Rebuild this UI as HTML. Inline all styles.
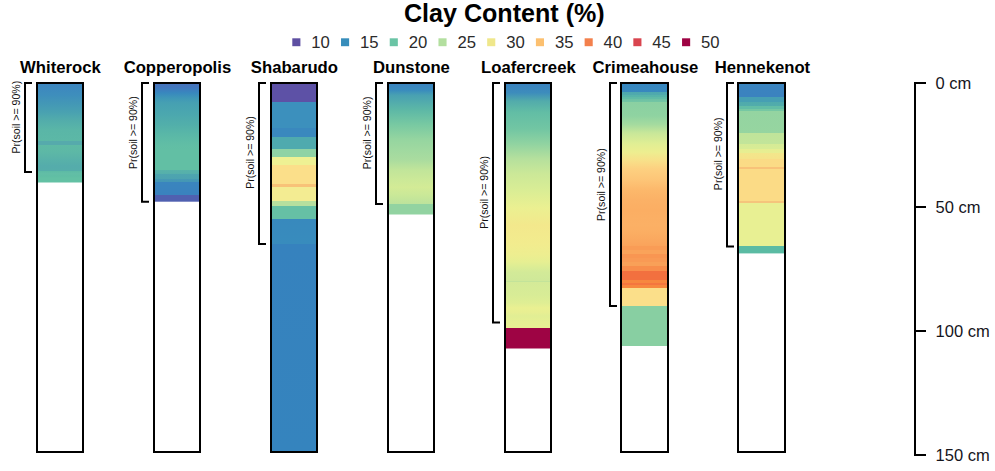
<!DOCTYPE html>
<html><head><meta charset="utf-8"><title>Clay Content (%)</title>
<style>html,body{margin:0;padding:0;background:#fff}svg{display:block}text{font-family:"Liberation Sans",Arial,sans-serif}</style>
</head><body>
<svg width="995" height="471" viewBox="0 0 995 471">
<rect width="995" height="471" fill="#fff"/>
<text x="504.3" y="21.8" font-size="25.1" font-weight="bold" text-anchor="middle" fill="#000">Clay Content (%)</text>
<rect x="292.30" y="38.3" width="8.1" height="7.9" fill="#5E4FA2"/>
<text x="311.30" y="47.6" font-size="16.7" fill="#2b2b2b">10</text>
<rect x="341.02" y="38.3" width="8.1" height="7.9" fill="#378DBB"/>
<text x="360.02" y="47.6" font-size="16.7" fill="#2b2b2b">15</text>
<rect x="389.74" y="38.3" width="8.1" height="7.9" fill="#6AC4A5"/>
<text x="408.74" y="47.6" font-size="16.7" fill="#2b2b2b">20</text>
<rect x="438.46" y="38.3" width="8.1" height="7.9" fill="#B3DF9F"/>
<text x="457.46" y="47.6" font-size="16.7" fill="#2b2b2b">25</text>
<rect x="487.18" y="38.3" width="8.1" height="7.9" fill="#EFE78B"/>
<text x="506.18" y="47.6" font-size="16.7" fill="#2b2b2b">30</text>
<rect x="535.90" y="38.3" width="8.1" height="7.9" fill="#FCC070"/>
<text x="554.90" y="47.6" font-size="16.7" fill="#2b2b2b">35</text>
<rect x="584.62" y="38.3" width="8.1" height="7.9" fill="#F3804C"/>
<text x="603.62" y="47.6" font-size="16.7" fill="#2b2b2b">40</text>
<rect x="633.34" y="38.3" width="8.1" height="7.9" fill="#D9454F"/>
<text x="652.34" y="47.6" font-size="16.7" fill="#2b2b2b">45</text>
<rect x="682.06" y="38.3" width="8.1" height="7.9" fill="#9E0343"/>
<text x="701.06" y="47.6" font-size="16.7" fill="#2b2b2b">50</text>
<defs><linearGradient id="g0" gradientUnits="userSpaceOnUse" x1="0" y1="83.0" x2="0" y2="182.5">
<stop offset="0.00000" stop-color="#3C85C0"/>
<stop offset="0.12060" stop-color="#3E8EBC"/>
<stop offset="0.22111" stop-color="#4499B5"/>
<stop offset="0.29146" stop-color="#49A1B1"/>
<stop offset="0.37186" stop-color="#52ACAB"/>
<stop offset="0.47236" stop-color="#5AB6A7"/>
<stop offset="0.58090" stop-color="#5CB8A6"/>
<stop offset="0.58291" stop-color="#56AAAC"/>
<stop offset="0.61809" stop-color="#56AAAC"/>
<stop offset="0.62312" stop-color="#5EBAA5"/>
<stop offset="0.69347" stop-color="#5DB8A6"/>
<stop offset="0.77387" stop-color="#58B1A9"/>
<stop offset="0.83417" stop-color="#55ACAB"/>
<stop offset="0.88141" stop-color="#55ADAA"/>
<stop offset="0.88442" stop-color="#5CBAA5"/>
<stop offset="0.90955" stop-color="#62BEA6"/>
<stop offset="0.93467" stop-color="#60BEA4"/>
<stop offset="0.95477" stop-color="#63C1A4"/>
<stop offset="1.00000" stop-color="#63C1A4"/>
</linearGradient></defs>
<rect x="37" y="83.0" width="46" height="99.50" fill="url(#g0)"/>
<rect x="37" y="83" width="46" height="369" fill="none" stroke="#000" stroke-width="2"/>
<text x="60.40" y="72.7" font-size="16.7" font-weight="bold" text-anchor="middle" fill="#000">Whiterock</text>
<path d="M32 83H25V171.90H32" fill="none" stroke="#000" stroke-width="2" stroke-linejoin="miter"/>
<text transform="translate(19.90,117.15) rotate(-90)" font-size="10.55" text-anchor="middle" fill="#111">Pr(soil &gt;= 90%)</text>
<defs><linearGradient id="g1" gradientUnits="userSpaceOnUse" x1="0" y1="83.0" x2="0" y2="201.7">
<stop offset="0.00000" stop-color="#4870BA"/>
<stop offset="0.04212" stop-color="#4078BD"/>
<stop offset="0.08425" stop-color="#3888BE"/>
<stop offset="0.12637" stop-color="#3F97B7"/>
<stop offset="0.16849" stop-color="#46A0B2"/>
<stop offset="0.26959" stop-color="#4CA8AE"/>
<stop offset="0.35383" stop-color="#52AFAA"/>
<stop offset="0.43808" stop-color="#5AB8A7"/>
<stop offset="0.52233" stop-color="#61BEA5"/>
<stop offset="0.56445" stop-color="#62BFA4"/>
<stop offset="0.72873" stop-color="#62BFA4"/>
<stop offset="0.72873" stop-color="#58B3A9"/>
<stop offset="0.76664" stop-color="#55AFAB"/>
<stop offset="0.76664" stop-color="#4EA5AF"/>
<stop offset="0.80876" stop-color="#4CA2B0"/>
<stop offset="0.80876" stop-color="#4699B4"/>
<stop offset="0.83235" stop-color="#4497B5"/>
<stop offset="0.83235" stop-color="#3A85BE"/>
<stop offset="0.94608" stop-color="#3A82BE"/>
<stop offset="0.94608" stop-color="#5060B0"/>
<stop offset="1.00000" stop-color="#5060B0"/>
</linearGradient></defs>
<rect x="154" y="83.0" width="46" height="118.70" fill="url(#g1)"/>
<rect x="154" y="83" width="46" height="369" fill="none" stroke="#000" stroke-width="2"/>
<text x="177.40" y="72.7" font-size="16.7" font-weight="bold" text-anchor="middle" fill="#000">Copperopolis</text>
<path d="M149 83H142V201.80H149" fill="none" stroke="#000" stroke-width="2" stroke-linejoin="miter"/>
<text transform="translate(136.90,132.65) rotate(-90)" font-size="10.55" text-anchor="middle" fill="#111">Pr(soil &gt;= 90%)</text>
<defs><linearGradient id="g2" gradientUnits="userSpaceOnUse" x1="0" y1="83.0" x2="0" y2="451.8">
<stop offset="0.00000" stop-color="#5D51A6"/>
<stop offset="0.05098" stop-color="#5D51A6"/>
<stop offset="0.05098" stop-color="#3C90BD"/>
<stop offset="0.12229" stop-color="#3C90BD"/>
<stop offset="0.12229" stop-color="#3A88BE"/>
<stop offset="0.14534" stop-color="#3A88BE"/>
<stop offset="0.14534" stop-color="#4FAAAE"/>
<stop offset="0.17896" stop-color="#4FAAAE"/>
<stop offset="0.17896" stop-color="#8FD3A5"/>
<stop offset="0.20065" stop-color="#8FD3A5"/>
<stop offset="0.20065" stop-color="#EEF193"/>
<stop offset="0.22099" stop-color="#EEF193"/>
<stop offset="0.22099" stop-color="#FBDF8A"/>
<stop offset="0.27467" stop-color="#FBDF8A"/>
<stop offset="0.27467" stop-color="#F8C278"/>
<stop offset="0.28281" stop-color="#F8C278"/>
<stop offset="0.28281" stop-color="#F3EC92"/>
<stop offset="0.31887" stop-color="#F3EC92"/>
<stop offset="0.31887" stop-color="#B6DF9E"/>
<stop offset="0.33351" stop-color="#B6DF9E"/>
<stop offset="0.33351" stop-color="#66C0A5"/>
<stop offset="0.36795" stop-color="#66C0A5"/>
<stop offset="0.36795" stop-color="#3889BD"/>
<stop offset="0.43736" stop-color="#388CBD"/>
<stop offset="0.43736" stop-color="#3682BE"/>
<stop offset="1.00000" stop-color="#3584BE"/>
</linearGradient></defs>
<rect x="271" y="83.0" width="46" height="368.80" fill="url(#g2)"/>
<rect x="271" y="83" width="46" height="369" fill="none" stroke="#000" stroke-width="2"/>
<text x="294.40" y="72.7" font-size="16.7" font-weight="bold" text-anchor="middle" fill="#000">Shabarudo</text>
<path d="M266 83H259V243.90H266" fill="none" stroke="#000" stroke-width="2" stroke-linejoin="miter"/>
<text transform="translate(253.90,152.50) rotate(-90)" font-size="10.55" text-anchor="middle" fill="#111">Pr(soil &gt;= 90%)</text>
<defs><linearGradient id="g3" gradientUnits="userSpaceOnUse" x1="0" y1="83.0" x2="0" y2="214.5">
<stop offset="0.00000" stop-color="#3A82BF"/>
<stop offset="0.05627" stop-color="#3A8CBD"/>
<stop offset="0.09125" stop-color="#48A0B2"/>
<stop offset="0.20532" stop-color="#5DB8A6"/>
<stop offset="0.31635" stop-color="#78C9A2"/>
<stop offset="0.42890" stop-color="#95D5A0"/>
<stop offset="0.50951" stop-color="#A0D9A0"/>
<stop offset="0.58555" stop-color="#AADC9F"/>
<stop offset="0.66160" stop-color="#C1E59A"/>
<stop offset="0.73764" stop-color="#CCE998"/>
<stop offset="0.79392" stop-color="#D3EB96"/>
<stop offset="0.85171" stop-color="#CAE898"/>
<stop offset="0.88973" stop-color="#C2E59A"/>
<stop offset="0.92015" stop-color="#BCE39C"/>
<stop offset="0.92091" stop-color="#92D3A1"/>
<stop offset="1.00000" stop-color="#92D3A1"/>
</linearGradient></defs>
<rect x="388" y="83.0" width="46" height="131.50" fill="url(#g3)"/>
<rect x="388" y="83" width="46" height="369" fill="none" stroke="#000" stroke-width="2"/>
<text x="411.40" y="72.7" font-size="16.7" font-weight="bold" text-anchor="middle" fill="#000">Dunstone</text>
<path d="M383 83H376V204.00H383" fill="none" stroke="#000" stroke-width="2" stroke-linejoin="miter"/>
<text transform="translate(370.90,132.90) rotate(-90)" font-size="10.55" text-anchor="middle" fill="#111">Pr(soil &gt;= 90%)</text>
<defs><linearGradient id="g4" gradientUnits="userSpaceOnUse" x1="0" y1="83.0" x2="0" y2="348.5">
<stop offset="0.00000" stop-color="#3A82BF"/>
<stop offset="0.03653" stop-color="#3D8CBC"/>
<stop offset="0.06780" stop-color="#52ABAB"/>
<stop offset="0.10923" stop-color="#62BDA5"/>
<stop offset="0.17326" stop-color="#72C6A3"/>
<stop offset="0.22863" stop-color="#90D3A1"/>
<stop offset="0.28475" stop-color="#B5E09D"/>
<stop offset="0.34049" stop-color="#CBE898"/>
<stop offset="0.40301" stop-color="#D9ED95"/>
<stop offset="0.47081" stop-color="#EBF091"/>
<stop offset="0.53484" stop-color="#F3E88C"/>
<stop offset="0.60640" stop-color="#F2EC8E"/>
<stop offset="0.64783" stop-color="#EDEE90"/>
<stop offset="0.67420" stop-color="#E6EF92"/>
<stop offset="0.69303" stop-color="#DCED95"/>
<stop offset="0.71186" stop-color="#D3EA98"/>
<stop offset="0.74388" stop-color="#CFE899"/>
<stop offset="0.74388" stop-color="#C3E39A"/>
<stop offset="0.74953" stop-color="#C3E39A"/>
<stop offset="0.74953" stop-color="#D4EA98"/>
<stop offset="0.79849" stop-color="#D8EC96"/>
<stop offset="0.82863" stop-color="#DFEE94"/>
<stop offset="0.84746" stop-color="#EAF092"/>
<stop offset="0.86252" stop-color="#E8EF92"/>
<stop offset="0.87759" stop-color="#E1EE94"/>
<stop offset="0.90019" stop-color="#E6F093"/>
<stop offset="0.92241" stop-color="#E8F093"/>
<stop offset="0.92241" stop-color="#9E0444"/>
<stop offset="1.00000" stop-color="#9E0444"/>
</linearGradient></defs>
<rect x="505" y="83.0" width="46" height="265.50" fill="url(#g4)"/>
<rect x="505" y="83" width="46" height="369" fill="none" stroke="#000" stroke-width="2"/>
<text x="528.40" y="72.7" font-size="16.7" font-weight="bold" text-anchor="middle" fill="#000">Loafercreek</text>
<path d="M500 83H493V322.40H500" fill="none" stroke="#000" stroke-width="2" stroke-linejoin="miter"/>
<text transform="translate(487.90,192.45) rotate(-90)" font-size="10.55" text-anchor="middle" fill="#111">Pr(soil &gt;= 90%)</text>
<defs><linearGradient id="g5" gradientUnits="userSpaceOnUse" x1="0" y1="83.0" x2="0" y2="346.0">
<stop offset="0.00000" stop-color="#3686BF"/>
<stop offset="0.03232" stop-color="#3888BE"/>
<stop offset="0.03232" stop-color="#4CA6AF"/>
<stop offset="0.04411" stop-color="#50AAAD"/>
<stop offset="0.04411" stop-color="#55B3AA"/>
<stop offset="0.05323" stop-color="#57B4A9"/>
<stop offset="0.05323" stop-color="#5FBAA6"/>
<stop offset="0.06236" stop-color="#62BCA6"/>
<stop offset="0.06236" stop-color="#6EC2A4"/>
<stop offset="0.07110" stop-color="#72C5A4"/>
<stop offset="0.07110" stop-color="#8AD0A2"/>
<stop offset="0.12548" stop-color="#8FD3A1"/>
<stop offset="0.15817" stop-color="#A5DB9F"/>
<stop offset="0.19011" stop-color="#C8E799"/>
<stop offset="0.23080" stop-color="#E0EE94"/>
<stop offset="0.26236" stop-color="#EDEE90"/>
<stop offset="0.29544" stop-color="#F8E089"/>
<stop offset="0.32700" stop-color="#FDD080"/>
<stop offset="0.36882" stop-color="#FDC577"/>
<stop offset="0.40684" stop-color="#FCB86B"/>
<stop offset="0.44487" stop-color="#FBB166"/>
<stop offset="0.48289" stop-color="#FBAE63"/>
<stop offset="0.53992" stop-color="#FBB065"/>
<stop offset="0.56654" stop-color="#FBAE63"/>
<stop offset="0.59696" stop-color="#FAA85F"/>
<stop offset="0.61977" stop-color="#FAA35B"/>
<stop offset="0.61977" stop-color="#F99C56"/>
<stop offset="0.63498" stop-color="#F99C56"/>
<stop offset="0.63498" stop-color="#FAA35A"/>
<stop offset="0.65019" stop-color="#FAA35A"/>
<stop offset="0.65019" stop-color="#F99652"/>
<stop offset="0.66540" stop-color="#F99652"/>
<stop offset="0.66540" stop-color="#F99A55"/>
<stop offset="0.68061" stop-color="#F99A55"/>
<stop offset="0.68061" stop-color="#F9A058"/>
<stop offset="0.69392" stop-color="#F9A058"/>
<stop offset="0.69392" stop-color="#F88E4C"/>
<stop offset="0.71293" stop-color="#F88E4C"/>
<stop offset="0.71293" stop-color="#F2703F"/>
<stop offset="0.74905" stop-color="#F2703F"/>
<stop offset="0.74905" stop-color="#F7873F"/>
<stop offset="0.76046" stop-color="#F7873F"/>
<stop offset="0.76046" stop-color="#F4763F"/>
<stop offset="0.76616" stop-color="#F4763F"/>
<stop offset="0.76616" stop-color="#F7883F"/>
<stop offset="0.77947" stop-color="#F7883F"/>
<stop offset="0.77947" stop-color="#FBDF8A"/>
<stop offset="0.84715" stop-color="#FBDF8A"/>
<stop offset="0.84715" stop-color="#88CFA2"/>
<stop offset="1.00000" stop-color="#88CFA2"/>
</linearGradient></defs>
<rect x="621" y="83.0" width="47" height="263.00" fill="url(#g5)"/>
<rect x="621" y="83" width="47" height="369" fill="none" stroke="#000" stroke-width="2"/>
<text x="645.40" y="72.7" font-size="16.7" font-weight="bold" text-anchor="middle" fill="#000">Crimeahouse</text>
<path d="M617 83H610V305.95H617" fill="none" stroke="#000" stroke-width="2" stroke-linejoin="miter"/>
<text transform="translate(604.90,184.60) rotate(-90)" font-size="10.55" text-anchor="middle" fill="#111">Pr(soil &gt;= 90%)</text>
<defs><linearGradient id="g6" gradientUnits="userSpaceOnUse" x1="0" y1="83.0" x2="0" y2="253.4">
<stop offset="0.00000" stop-color="#3A86C0"/>
<stop offset="0.02934" stop-color="#3B83BF"/>
<stop offset="0.07923" stop-color="#3B82BF"/>
<stop offset="0.07923" stop-color="#469FB3"/>
<stop offset="0.10857" stop-color="#469FB3"/>
<stop offset="0.10857" stop-color="#4FAAAD"/>
<stop offset="0.13791" stop-color="#52ADAB"/>
<stop offset="0.13791" stop-color="#62BDA6"/>
<stop offset="0.15258" stop-color="#62BDA6"/>
<stop offset="0.15258" stop-color="#76C8A3"/>
<stop offset="0.16725" stop-color="#76C8A3"/>
<stop offset="0.16725" stop-color="#94D4A1"/>
<stop offset="0.29636" stop-color="#96D5A0"/>
<stop offset="0.29636" stop-color="#C0E49A"/>
<stop offset="0.35798" stop-color="#C2E59A"/>
<stop offset="0.35798" stop-color="#D5EB96"/>
<stop offset="0.38439" stop-color="#D8EC95"/>
<stop offset="0.38439" stop-color="#E6EE92"/>
<stop offset="0.41373" stop-color="#E8EE91"/>
<stop offset="0.41373" stop-color="#F3E68B"/>
<stop offset="0.44308" stop-color="#F5E38A"/>
<stop offset="0.44308" stop-color="#FADB86"/>
<stop offset="0.49120" stop-color="#FBDB86"/>
<stop offset="0.49120" stop-color="#F8C279"/>
<stop offset="0.50235" stop-color="#F8C279"/>
<stop offset="0.50235" stop-color="#FBDB86"/>
<stop offset="0.69425" stop-color="#FBDB86"/>
<stop offset="0.69425" stop-color="#F5C57C"/>
<stop offset="0.70423" stop-color="#F5C57C"/>
<stop offset="0.70423" stop-color="#E8F093"/>
<stop offset="0.95657" stop-color="#E8F093"/>
<stop offset="0.95657" stop-color="#5BBBA3"/>
<stop offset="1.00000" stop-color="#5BBBA3"/>
</linearGradient></defs>
<rect x="738" y="83.0" width="47" height="170.40" fill="url(#g6)"/>
<rect x="738" y="83" width="47" height="369" fill="none" stroke="#000" stroke-width="2"/>
<text x="762.40" y="72.7" font-size="16.7" font-weight="bold" text-anchor="middle" fill="#000">Hennekenot</text>
<path d="M734 83H727V246.60H734" fill="none" stroke="#000" stroke-width="2" stroke-linejoin="miter"/>
<text transform="translate(721.90,153.80) rotate(-90)" font-size="10.55" text-anchor="middle" fill="#111">Pr(soil &gt;= 90%)</text>
<path d="M926 83H915V455H926M915 207H926M915 331H926" fill="none" stroke="#000" stroke-width="2"/>
<text x="935.6" y="88.90" font-size="16.5" fill="#15151c">0 cm</text>
<text x="935.6" y="212.90" font-size="16.5" fill="#15151c">50 cm</text>
<text x="935.6" y="336.90" font-size="16.5" fill="#15151c">100 cm</text>
<text x="935.6" y="460.90" font-size="16.5" fill="#15151c">150 cm</text>
</svg></body></html>
